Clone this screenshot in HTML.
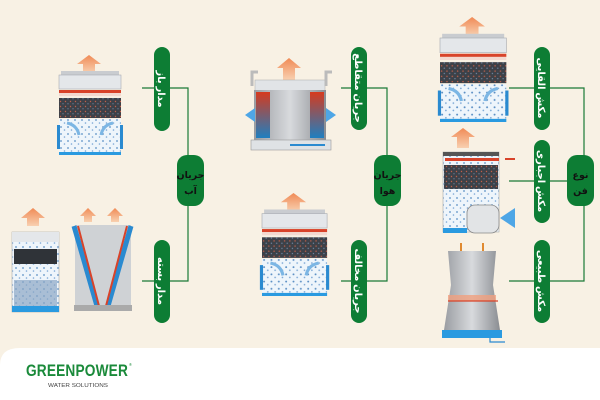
<!DOCTYPE html>
<html><head><meta charset="utf-8"><style>
html,body{margin:0;padding:0;background:#f8f1e4}
svg{display:block}
text{font-family:"Liberation Sans","DejaVu Sans",sans-serif}
.pt{font-family:"DejaVu Sans","Noto Sans CJK SC",sans-serif;font-weight:bold;fill:#fff;font-size:10px}
.ht{font-family:"DejaVu Sans","Noto Sans CJK SC",sans-serif;font-weight:bold;fill:#111;font-size:9.5px}
</style></head><body>
<svg width="600" height="400" viewBox="0 0 600 400" xmlns="http://www.w3.org/2000/svg">
<defs>
<pattern id="dots" width="7" height="7" patternUnits="userSpaceOnUse"><rect width="7" height="7" fill="#eef5fb"/><circle cx="2" cy="2" r="0.9" fill="#5b8fc4"/><circle cx="5.5" cy="5" r="0.8" fill="#7aa6d4"/></pattern>
<pattern id="media" width="5" height="5" patternUnits="userSpaceOnUse"><rect width="5" height="5" fill="#3d4148"/><circle cx="1.5" cy="1.5" r="0.7" fill="#c0604a"/><circle cx="4" cy="3.8" r="0.6" fill="#6f8fb0"/></pattern>
<linearGradient id="arr" x1="0" y1="0" x2="0" y2="1"><stop offset="0" stop-color="#f08a55"/><stop offset="1" stop-color="#f8d0b0"/></linearGradient>
<linearGradient id="rb" x1="0" y1="0" x2="0" y2="1"><stop offset="0" stop-color="#d63a1e"/><stop offset="1" stop-color="#1f7fc0"/></linearGradient>
<linearGradient id="gr" x1="0" y1="0" x2="1" y2="0"><stop offset="0" stop-color="#9a9da2"/><stop offset="0.5" stop-color="#d8dadd"/><stop offset="1" stop-color="#8a8d92"/></linearGradient>
<g id="tower">
<polygon points="30,0 42,9 36,9 36,18 24,18 24,9 18,9" fill="url(#arr)"/>
<rect x="2" y="16" width="58" height="4" fill="#c9ccd0"/>
<rect x="0" y="20" width="62" height="14" fill="#e4e7ea" stroke="#a8acb2" stroke-width="0.6"/>
<rect x="0" y="35" width="62" height="3" fill="#d8432a"/>
<rect x="0" y="38" width="62" height="3" fill="#f3d9d0"/>
<rect x="0" y="43" width="62" height="20" fill="url(#media)"/>
<rect x="0" y="64" width="62" height="33" fill="url(#dots)"/>
<path d="M8,68 Q18,70 20,80 M54,68 Q44,70 42,80" stroke="#7cb6e4" stroke-width="3" fill="none"/>
<rect x="-2" y="70" width="3" height="24" fill="#2a8ad0"/>
<rect x="61" y="70" width="3" height="24" fill="#2a8ad0"/>
<rect x="0" y="97" width="62" height="3" fill="#2a9ae0"/>
</g>
</defs>
<rect width="600" height="400" fill="#f8f1e4"/>
<path d="M0,400 L0,365 Q0,348 20,348 L600,348 L600,400 Z" fill="#ffffff"/>

<g stroke="#1a7a36" stroke-width="1.2" fill="none">
<path d="M142,88 H188 V281 H142"/>
<path d="M341,88 H387 V281 H341"/>
<path d="M509,88 H584 V281 H509 M509,181 H584"/>
</g>
<g fill="#0d7d34">
<rect x="154" y="47" width="16" height="84" rx="8"/>
<rect x="154" y="240" width="16" height="83" rx="8"/>
<rect x="177" y="155" width="27" height="51" rx="10"/>
<rect x="351" y="47" width="16" height="83" rx="8"/>
<rect x="351" y="240" width="16" height="83" rx="8"/>
<rect x="374" y="155" width="27" height="51" rx="10"/>
<rect x="534" y="47" width="16" height="83" rx="8"/>
<rect x="534" y="140" width="16" height="83" rx="8"/>
<rect x="534" y="240" width="16" height="83" rx="8"/>
<rect x="567" y="155" width="27" height="51" rx="10"/>
</g>
<g class="pt" text-anchor="middle">
<text transform="translate(162,89) rotate(90)" dy="4">مدار باز</text>
<text transform="translate(162,281) rotate(90)" dy="4">مدار بسته</text>
<text transform="translate(359,88) rotate(90)" dy="4">جریان متقاطع</text>
<text transform="translate(359,281) rotate(90)" dy="4">جریان مخالف</text>
<text transform="translate(542,88) rotate(90)" dy="4">مکش القایی</text>
<text transform="translate(542,181) rotate(90)" dy="4">مکش اجباری</text>
<text transform="translate(542,281) rotate(90)" dy="4">مکش طبیعی</text>
</g>
<g class="ht" text-anchor="middle">
<text x="190.5" y="178">جریان</text><text x="190.5" y="194">آب</text>
<text x="387.5" y="178">جریان</text><text x="387.5" y="194">هوا</text>
<text x="580.5" y="178">نوع</text><text x="580.5" y="194">فن</text>
</g>

<use href="#tower" transform="translate(59,55)"/>
<use href="#tower" transform="translate(262,193) scale(1.05,1.03)"/>
<use href="#tower" transform="translate(440,17) scale(1.07,1.05)"/>

<g>
<polygon points="289,58 301,68 295,68 295,80 283,80 283,68 277,68" fill="url(#arr)"/>
<rect x="255" y="80" width="70" height="12" fill="#e1e4e7" stroke="#aaa" stroke-width="0.5"/>
<rect x="254" y="90" width="72" height="50" fill="url(#gr)"/>
<rect x="256" y="92" width="14" height="46" fill="url(#rb)"/>
<rect x="310" y="92" width="14" height="46" fill="url(#rb)"/>
<polygon points="245,115 255,108 255,122" fill="#4ea6e6"/>
<polygon points="336,115 326,108 326,122" fill="#4ea6e6"/>
<rect x="251" y="140" width="80" height="10" fill="#dfe2e5" stroke="#999" stroke-width="0.6"/>
<rect x="290" y="144" width="35" height="2" fill="#2a8ad0"/>
<path d="M252,86 V72 H258" stroke="#bbb" stroke-width="3" fill="none"/>
<path d="M326,86 V72 H332" stroke="#bbb" stroke-width="3" fill="none"/>
</g>

<g>
<polygon points="463,128 475,137 469,137 469,148 457,148 457,137 451,137" fill="url(#arr)"/>
<rect x="443" y="152" width="56" height="80" fill="url(#dots)" stroke="#aaa" stroke-width="0.6"/>
<rect x="443" y="152" width="56" height="4" fill="#555"/>
<rect x="445" y="158" width="54" height="3" fill="#d8432a"/>
<rect x="444" y="165" width="54" height="24" fill="url(#media)"/>
<rect x="467" y="205" width="32" height="28" rx="8" fill="#e2e4e6" stroke="#888" stroke-width="0.8"/>
<polygon points="500,218 515,208 515,228" fill="#4ea6e6"/>
<rect x="443" y="228" width="24" height="5" fill="#2a9ae0"/>
<rect x="505" y="158" width="10" height="2" fill="#d8432a"/>
</g>

<g>
<rect x="460" y="243" width="2" height="12" fill="#e08a30"/>
<rect x="482" y="243" width="2" height="12" fill="#e08a30"/>
<path d="M448,251 H496 L493,285 L500,330 H444 L451,285 Z" fill="url(#gr)"/>
<rect x="448" y="295" width="48" height="6" fill="#f0a080" opacity="0.8"/>
<path d="M448,301 H498" stroke="#d8432a" stroke-width="1.2"/>
<rect x="442" y="330" width="60" height="8" fill="#2a9ae0"/>
<path d="M490,338 V342 H505" stroke="#2a8ad0" stroke-width="1.2" fill="none"/>
</g>

<g>
<polygon points="33,208 45,218 39,218 39,226 27,226 27,218 21,218" fill="url(#arr)"/>
<rect x="12" y="232" width="47" height="80" fill="url(#dots)" stroke="#aaa" stroke-width="0.6"/>
<rect x="12" y="232" width="47" height="10" fill="#e4e7ea"/>
<rect x="14" y="249" width="43" height="15" fill="#2f3338"/>
<rect x="14" y="280" width="43" height="26" fill="#8ca6c4" opacity="0.7"/>
<rect x="12" y="306" width="47" height="6" fill="#2a9ae0"/>
<polygon points="88,208 96,216 92,216 92,222 84,222 84,216 80,216" fill="url(#arr)"/>
<polygon points="115,208 123,216 119,216 119,222 111,222 111,216 107,216" fill="url(#arr)"/>
<rect x="75" y="225" width="56" height="85" fill="#cfd2d5"/>
<path d="M74,226 L97,306 M131,226 L108,306" stroke="#2a8ad0" stroke-width="5"/>
<path d="M78,226 L99,306 M127,226 L106,306" stroke="#d8432a" stroke-width="2"/>
<rect x="74" y="305" width="58" height="6" fill="#aaa"/>
</g>

<text x="26" y="376" font-size="17" font-weight="bold" fill="#1a8a3a" letter-spacing="0.2" textLength="102" lengthAdjust="spacingAndGlyphs">GREENPOWER</text>
<text x="129" y="366" font-size="4" fill="#1a8a3a">®</text>
<text x="48" y="387" font-size="5.5" fill="#444" textLength="60" lengthAdjust="spacingAndGlyphs">WATER SOLUTIONS</text>
</svg>
</body></html>
